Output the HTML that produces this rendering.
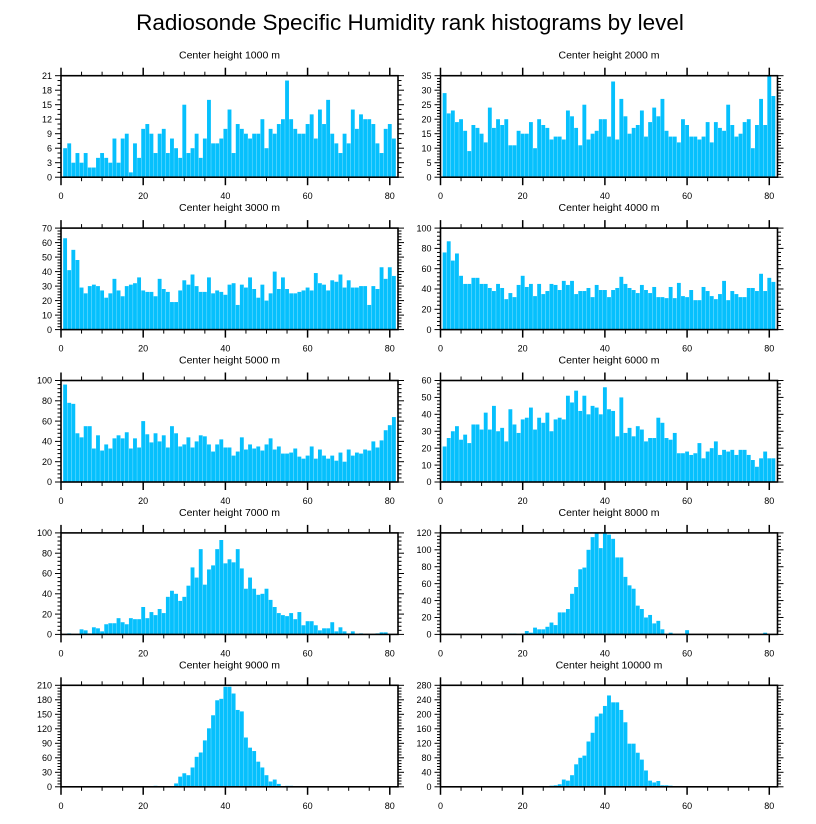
<!DOCTYPE html>
<html><head><meta charset="utf-8"><style>
html,body{margin:0;padding:0;background:#fff;}
svg{display:block;font-family:"Liberation Sans",sans-serif;}
</style></head><body>
<svg id="chart" width="816" height="824" viewBox="0 0 816 824">
<text x="410" y="30" font-size="22.5" text-anchor="middle">Radiosonde Specific Humidity rank histograms by level</text>
</svg>
<script>
const panelTitles = ["Center height 1000 m","Center height 2000 m","Center height 3000 m","Center height 4000 m","Center height 5000 m","Center height 6000 m","Center height 7000 m","Center height 8000 m","Center height 9000 m","Center height 10000 m"];
const xTicks = [0,20,40,60,80];
const yMaxes = [21,35,70,100,100,60,100,120,210,280];
const ySteps = [3,5,10,20,20,10,20,20,30,40];
const values1 = [6,7,3,5,3,5,2,2,4,5,4,3,8,3,8,9,1,7,4,10,11,9,5,9,10,5,8,6,4,15,5,6,9,4,8,16,7,7,8,10,14,5,11,10,9,8,9,9,12,6,10,9,11,12,20,12,10,9,9,11,13,8,14,11,16,9,7,5,9,7,14,10,13,12,12,11,7,5,10,11,8];
const values2 = [29,22,23,19,20,16,9,18,17,15,12,24,17,20,18,20,11,11,16,15,15,19,10,20,18,17,13,14,14,13,23,21,17,11,25,13,15,16,20,20,14,33,13,27,21,15,17,18,23,14,19,24,21,27,16,14,14,12,20,18,14,14,13,14,19,12,19,17,16,25,18,14,15,19,20,10,18,27,18,35,28];
const values3 = [63,41,55,48,29,25,30,31,30,27,22,25,35,27,23,30,31,32,36,27,26,26,23,35,28,26,19,19,27,34,31,38,30,26,26,36,25,27,26,24,31,32,17,31,29,36,28,22,31,20,25,40,28,36,28,25,25,26,27,29,27,39,32,31,27,34,33,38,29,34,29,29,30,30,17,30,28,43,35,43,37];
const values4 = [76,87,68,75,53,45,45,51,51,45,45,41,38,45,41,30,36,32,44,53,42,45,33,45,35,38,45,44,39,48,44,48,35,38,38,41,32,44,39,39,32,39,41,52,45,41,39,36,44,39,36,42,32,32,31,42,31,46,33,32,39,29,29,42,38,33,30,35,48,29,38,35,32,32,41,41,38,55,38,51,47];
const values5 = [96,78,77,48,44,55,55,33,46,31,37,33,43,46,43,49,33,43,34,60,47,39,48,40,46,34,55,48,35,37,44,34,40,46,45,37,30,37,42,34,34,26,30,44,32,37,33,35,31,37,43,32,35,28,28,29,33,25,23,26,35,23,32,26,23,26,21,29,20,32,26,29,28,32,31,40,34,41,51,56,64];
const values6 = [21,26,30,33,25,28,23,34,34,31,41,31,45,30,32,24,43,34,29,37,38,44,31,38,35,41,30,37,38,37,51,47,54,42,51,40,45,44,40,56,43,42,27,50,29,32,27,33,31,24,26,26,38,35,26,25,29,17,17,18,16,17,23,14,18,20,24,16,19,18,19,16,19,19,16,13,9,14,18,14,14];
const values7 = [0,1,0,0,5,4,1,7,6,3,10,11,11,16,12,10,16,15,15,27,16,22,19,25,21,37,43,40,33,37,48,66,56,84,49,64,68,84,93,70,74,71,84,65,45,56,45,39,40,45,34,27,21,19,18,21,15,22,9,13,13,9,4,6,6,12,3,7,3,1,3,0,1,0,0,0,1,2,2,0,0];
const values8 = [0,0,0,0,0,0,0,0,0,0,0,0,0,0,0,0,1,1,0,1,4,2,8,6,6,9,14,11,26,26,30,48,56,77,79,100,115,120,102,120,118,113,91,91,68,58,54,34,30,20,23,13,16,6,0,2,0,0,0,5,0,0,0,0,0,0,0,0,0,0,0,0,0,0,0,0,0,0,2,0,0];
const values9 = [0,0,0,0,0,0,0,0,0,0,0,0,0,0,0,0,0,0,0,0,0,0,2,1,1,1,1,7,21,28,24,40,62,71,96,121,148,179,182,207,207,193,159,156,102,81,74,52,40,24,11,15,6,1,2,2,1,0,0,0,0,1,0,0,0,0,0,0,0,0,0,0,0,0,0,0,0,0,0,0,0];
const values10 = [0,0,0,0,0,0,0,0,0,0,0,0,0,0,0,0,0,0,0,0,0,0,0,0,1,1,3,4,7,20,17,32,62,80,86,125,149,194,202,223,252,233,233,212,178,119,119,94,75,45,17,12,16,4,4,3,1,1,1,0,0,0,0,0,0,0,0,0,0,0,0,0,0,0,0,0,0,0,0,0,0];
const allValues = [values1,values2,values3,values4,values5,values6,values7,values8,values9,values10];

const NS = "http://www.w3.org/2000/svg";
const svg = document.getElementById("chart");
function mk(tag, attrs, parent){
  const e = document.createElementNS(NS, tag);
  for (const k in attrs) e.setAttribute(k, attrs[k]);
  (parent||svg).appendChild(e);
  return e;
}
const X_MAX = 82, W = 337, H = 101.5;
allValues.forEach((vals, p) => {
  const col = p % 2, row = Math.floor(p / 2);
  const left = col === 0 ? 61 : 440.5;
  const top = 75.7 + row * 152.4;
  const bottom = top + H;
  const xs = v => left + v / X_MAX * W;
  const ys = v => bottom - v / yMaxes[p] * H;
  const g = mk("g", {});
  
  
  const t = mk("text", {x: left + W/2, y: top - 17, "font-size": 10.5, "text-anchor": "middle"}, g);
  t.textContent = panelTitles[p];
  
  
  vals.forEach((v, i) => {
    const c = i + 1;
    const r = mk("rect", {x: xs(c - 0.47), y: ys(v), width: xs(c + 0.47) - xs(c - 0.47), height: Math.max(0, bottom - ys(v)), fill: "#06c0fd"}, g);
    
    
  });
  for (let v = 0; v <= 80; v += 5) {
    const major = v % 20 === 0;
    const L = major ? 8 : 4;
    mk("line", {x1: xs(v), x2: xs(v), y1: bottom, y2: bottom + L, stroke: "#000", "stroke-width": major ? 1.5 : 1}, g);
    mk("line", {x1: xs(v), x2: xs(v), y1: top, y2: top - L, stroke: "#000", "stroke-width": major ? 1.5 : 1}, g);
  }
  xTicks.forEach(v => {
    const tl = mk("text", {x: xs(v), y: bottom + 22, "font-size": 9, "text-anchor": "middle"}, g);
    tl.textContent = v;
    
    
  });
  const step = ySteps[p];
  const minor = step / 5 >= 1 && Number.isInteger(step/5) ? step/5 : step/3;
  for (let v = 0; v <= yMaxes[p] + 1e-6; v += minor) {
    const major = Math.abs(v / step - Math.round(v / step)) < 1e-6;
    const L = major ? 6 : 3.5;
    mk("line", {x1: left, x2: left - L, y1: ys(v), y2: ys(v), stroke: "#000", "stroke-width": 1}, g);
    mk("line", {x1: left + W, x2: left + W + L, y1: ys(v), y2: ys(v), stroke: "#000", "stroke-width": 1}, g);
  }
  for (let v = 0; v <= yMaxes[p]; v += step) {
    const tl = mk("text", {x: left - 9, y: ys(v) + 3.2, "font-size": 9, "text-anchor": "end"}, g);
    tl.textContent = v;
    
    
  }
  const fr = mk("rect", {x: left, y: top, width: W, height: H, fill: "none", stroke: "#000", "stroke-width": 1.6}, g);
  
  
});
</script>
</body></html>
